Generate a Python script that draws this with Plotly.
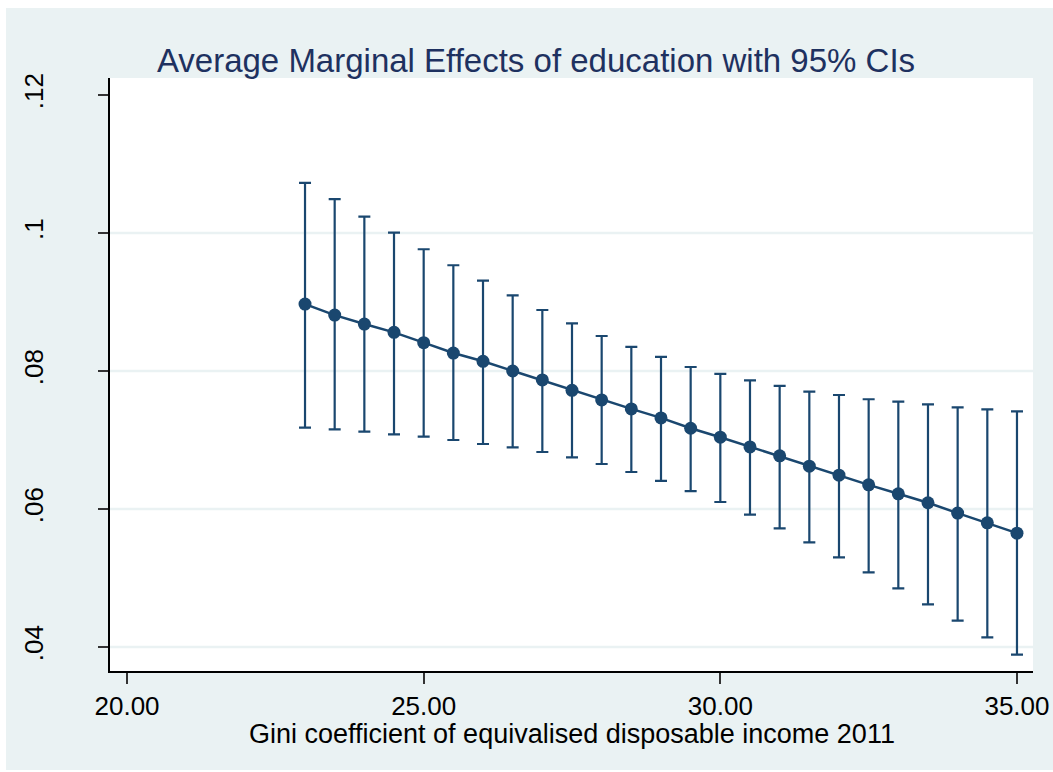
import plotly.graph_objects as go

# Gini coefficient values at which the margins were evaluated
gini = [23.0, 23.5, 24.0, 24.5, 25.0, 25.5, 26.0, 26.5, 27.0, 27.5, 28.0, 28.5,
        29.0, 29.5, 30.0, 30.5, 31.0, 31.5, 32.0, 32.5, 33.0, 33.5, 34.0, 34.5, 35.0]

# Average marginal effect of education
ame = [0.0897, 0.0881, 0.0868, 0.0856, 0.0841, 0.0826, 0.0814, 0.0800, 0.0787,
       0.0772, 0.0758, 0.0745, 0.0732, 0.0717, 0.0704, 0.0690, 0.0677, 0.0662,
       0.0649, 0.0635, 0.0622, 0.0609, 0.0594, 0.0580, 0.0565]

# 95% confidence bounds
ci_upper = [0.10725, 0.1049, 0.10236, 0.10004, 0.09764, 0.09532, 0.09309, 0.09097,
            0.08884, 0.08691, 0.08507, 0.08348, 0.08203, 0.08058, 0.07957, 0.07865,
            0.07783, 0.0770, 0.07652, 0.0759, 0.07556, 0.07517, 0.07474, 0.07445, 0.07416]
ci_lower = [0.07178, 0.07154, 0.0712, 0.07082, 0.07048, 0.0700, 0.06942, 0.06894,
            0.06826, 0.06749, 0.06652, 0.06536, 0.06406, 0.0626, 0.06101, 0.05917,
            0.0572, 0.05517, 0.05299, 0.05082, 0.0485, 0.04619, 0.04381, 0.0414, 0.03888]

x_ticks = [20, 25, 30, 35]
x_tick_labels = ["20.00", "25.00", "30.00", "35.00"]
y_ticks = [0.04, 0.06, 0.08, 0.10, 0.12]
y_tick_labels = [".04", ".06", ".08", ".1", ".12"]

NAVY = "#1a476f"
TITLE_NAVY = "#1e3160"
BG = "#eaf2f3"
FONT = "Liberation Sans, Arial, Helvetica, sans-serif"

err_plus = [u - m for u, m in zip(ci_upper, ame)]
err_minus = [m - l for m, l in zip(ame, ci_lower)]

fig = go.Figure()
fig.add_trace(go.Scatter(
    x=gini, y=ame,
    mode="lines+markers",
    line=dict(color=NAVY, width=2.5),
    marker=dict(color=NAVY, size=13),
    error_y=dict(type="data", symmetric=False, array=err_plus, arrayminus=err_minus,
                 color=NAVY, thickness=2.2, width=6),
    showlegend=False,
))

W, H = 1053, 772
L, R, T, B = 110, 20, 78, 101
pw, ph = W - L - R, H - T - B


def px_to_paper_x(px):
    return (px - L) / pw


def px_to_paper_y(py):
    return (H - B - py) / ph


shapes = [
    # light outer graph region
    dict(type="rect", xref="paper", yref="paper", layer="below",
         x0=px_to_paper_x(6), x1=px_to_paper_x(W + 5),
         y0=px_to_paper_y(770), y1=px_to_paper_y(8),
         fillcolor=BG, line=dict(width=0)),
    # white plot region
    dict(type="rect", xref="paper", yref="paper", layer="below",
         x0=0, x1=1, y0=0, y1=1, fillcolor="white", line=dict(width=0)),
]
# horizontal grid lines (none at the top tick)
for v in y_ticks[:-1]:
    shapes.append(dict(type="line", xref="paper", yref="y", layer="below",
                       x0=0, x1=1, y0=v, y1=v, line=dict(color=BG, width=2.5)))

fig.update_layout(
    width=W, height=H,
    margin=dict(l=L, r=R, t=T, b=B, autoexpand=False),
    paper_bgcolor="white",
    plot_bgcolor="rgba(0,0,0,0)",
    font=dict(family=FONT, color="black"),
    shapes=shapes,
    title=dict(text="Average Marginal Effects of education with 95% CIs",
               x=536 / W, xanchor="center", xref="container",
               y=1 - 60 / H, yanchor="middle", yref="container",
               font=dict(size=33, color=TITLE_NAVY, family=FONT)),
    annotations=[dict(
        text="Gini coefficient of equivalised disposable income 2011",
        xref="paper", yref="paper", x=0.5, y=px_to_paper_y(734),
        xanchor="center", yanchor="middle", showarrow=False,
        font=dict(size=27, family=FONT, color="black"),
    )],
    xaxis=dict(
        range=[19.713, 35.27],
        tickvals=x_ticks, ticktext=x_tick_labels,
        ticks="outside", ticklen=11, tickwidth=1.5, tickcolor="#333333",
        showline=True, linecolor="black", linewidth=1.5,
        showgrid=False, zeroline=False, automargin=False,
        tickfont=dict(size=26, family=FONT, color="black"),
    ),
    yaxis=dict(
        range=[0.03652, 0.12246],
        tickvals=y_ticks, ticktext=y_tick_labels,
        ticks="outside", ticklen=10, tickwidth=1.5, tickcolor="#333333",
        showline=True, linecolor="black", linewidth=1.5,
        showgrid=False, zeroline=False, automargin=False,
        tickangle=-90,
        ticklabelstandoff=45,
        tickfont=dict(size=26, family=FONT, color="black"),
    ),
)

fig.write_html("out.html")
